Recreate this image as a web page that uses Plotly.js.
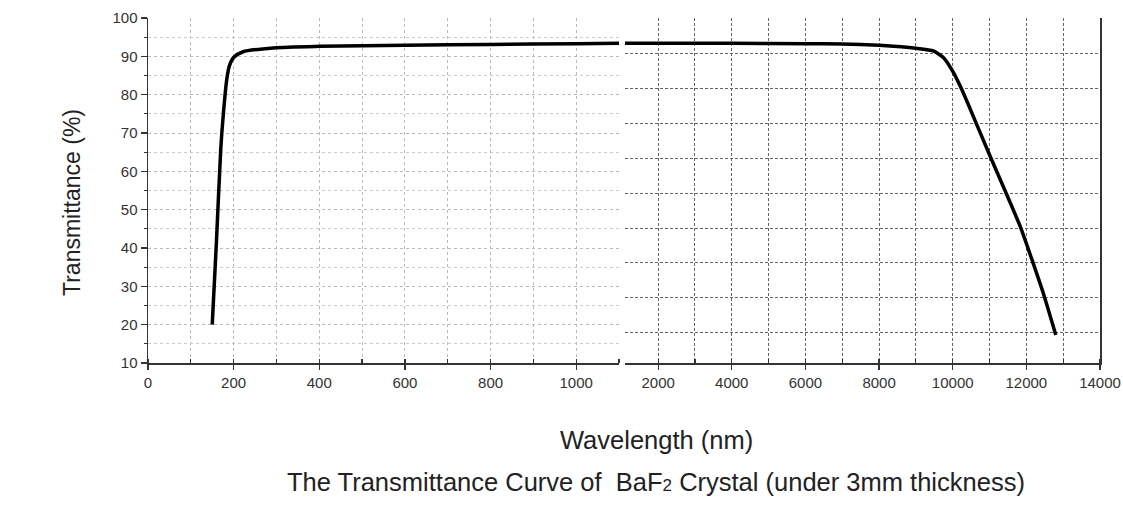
<!DOCTYPE html>
<html>
<head>
<meta charset="utf-8">
<script src="https://cdn.plot.ly/plotly-3.0.1.min.js"></script>
<style>html,body{margin:0;padding:0;background:#fff;}#chart{width:1123px;height:512px;}</style>
</head>
<body>
<div id="chart"></div>
<script>
// UV / visible part (nm)
const uvWavelength = [150, 160, 170, 176, 184, 190, 200, 222, 293, 400, 600, 800, 1000, 1100];
const uvTransmittance = [20, 42, 66, 75, 84, 87.5, 89.7, 91.2, 92.2, 92.6, 92.9, 93.1, 93.3, 93.4];
// IR part (nm)
const irWavelength = [1100, 2000, 4000, 6000, 7000, 8000, 8600, 9000, 9475, 9746, 10018, 10200, 10380, 11014, 11830, 12460, 12800];
const irTransmittance = [93.4, 93.4, 93.4, 93.3, 93.2, 92.9, 92.5, 92.1, 91.4, 89.7, 85.8, 82.3, 78.4, 64.0, 45.7, 28.2, 17.3];

const xTitle = 'Wavelength (nm)';
const yTitle = 'Transmittance (%)';
const caption = 'The Transmittance Curve of  BaF<span style="font-size:17px">2</span> Crystal (under 3mm thickness)';

const FONT = 'Liberation Sans, Arial, sans-serif';
const axisCol = '#333';
const tickFont = {family: FONT, size: 15, color: '#333'};

const traces = [
  {x: uvWavelength, y: uvTransmittance, xaxis: 'x', yaxis: 'y', mode: 'lines',
   line: {color: '#000', width: 3.5, shape: 'spline', smoothing: 0.7}, hoverinfo: 'x+y', showlegend: false},
  {x: irWavelength, y: irTransmittance, xaxis: 'x2', yaxis: 'y2', mode: 'lines',
   line: {color: '#000', width: 3.5, shape: 'spline', smoothing: 0.5}, hoverinfo: 'x+y', showlegend: false}
];

const dom1 = [148/1123, 619/1123];
const dom2 = [625/1123, 1100/1123];
const ydom = [1 - 363/512, 1 - 18/512];
const irDash = '3px,2px';

const layout = {
  width: 1123, height: 512,
  margin: {l: 0, r: 0, t: 0, b: 0},
  paper_bgcolor: '#fff', plot_bgcolor: 'rgba(0,0,0,0)',
  showlegend: false,
  font: {family: FONT, color: '#222'},
  xaxis: {domain: dom1, anchor: 'y', range: [0, 1100], tick0: 0, dtick: 200, tickformat: 'd',
    showline: true, linecolor: axisCol, linewidth: 1.5, zeroline: false,
    ticks: 'outside', ticklen: 5, tickcolor: axisCol, tickwidth: 1.2, tickfont: tickFont,
    showgrid: true, gridcolor: '#bbb', griddash: 'dot', gridwidth: 1,
    minor: {dtick: 100, ticks: 'inside', ticklen: 4, tickcolor: axisCol, showgrid: true, gridcolor: '#bbb', griddash: 'dot'}},
  xaxis3: {overlaying: 'x', anchor: 'y', side: 'top', range: [0, 1100], tick0: 0, dtick: 100,
    showline: true, linecolor: axisCol, linewidth: 2, zeroline: false,
    ticks: 'inside', ticklen: 5, tickcolor: axisCol, showticklabels: false, showgrid: false},
  yaxis: {domain: ydom, anchor: 'x', range: [10, 100], tick0: 0, dtick: 10,
    showline: true, linecolor: axisCol, linewidth: 1.5, zeroline: false,
    ticks: 'outside', ticklen: 6, tickcolor: axisCol, tickwidth: 1.2, tickfont: tickFont,
    showgrid: true, gridcolor: '#bbb', griddash: 'dot',
    minor: {dtick: 5, ticks: 'outside', ticklen: 3, tickcolor: axisCol, showgrid: true, gridcolor: '#ccc', griddash: 'dot'}},
  xaxis2: {domain: dom2, anchor: 'y2', range: [1100, 14000], tick0: 0, dtick: 2000, tickformat: 'd',
    showline: true, linecolor: axisCol, linewidth: 1.5, zeroline: false,
    ticks: 'outside', ticklen: 5, tickcolor: axisCol, tickwidth: 1.2, tickfont: tickFont,
    showgrid: true, gridcolor: '#666', griddash: irDash, gridwidth: 1,
    minor: {dtick: 1000, ticks: 'inside', ticklen: 4, tickcolor: axisCol, showgrid: true, gridcolor: '#666', griddash: irDash}},
  xaxis4: {overlaying: 'x2', anchor: 'y2', side: 'top', range: [1100, 14000], tick0: 0, dtick: 1000,
    showline: true, linecolor: axisCol, linewidth: 2, zeroline: false,
    ticks: 'inside', ticklen: 5, tickcolor: axisCol, showticklabels: false, showgrid: false},
  yaxis2: {domain: ydom, anchor: 'x2', range: [10, 100], side: 'right', tick0: 17.9, dtick: 9.1,
    showline: true, linecolor: axisCol, linewidth: 1.5, zeroline: false,
    ticks: '', showticklabels: false,
    showgrid: true, gridcolor: '#666', griddash: irDash, gridwidth: 1},
  annotations: [
    {text: yTitle, xref: 'paper', yref: 'paper', x: 72/1123, y: 1 - 203/512, xanchor: 'center', yanchor: 'middle',
     textangle: -90, showarrow: false, font: {family: FONT, size: 23, color: '#222'}},
    {text: xTitle, xref: 'paper', yref: 'paper', x: 656/1123, y: 1 - 440/512, xanchor: 'center', yanchor: 'middle',
     showarrow: false, font: {family: FONT, size: 25.5, color: '#222'}},
    {text: caption, xref: 'paper', yref: 'paper', x: 656/1123, y: 1 - 482/512, xanchor: 'center', yanchor: 'middle',
     showarrow: false, font: {family: FONT, size: 25.5, color: '#222'}}
  ]
};

Plotly.newPlot('chart', traces, layout, {displayModeBar: false, staticPlot: true});
</script>
</body>
</html>
